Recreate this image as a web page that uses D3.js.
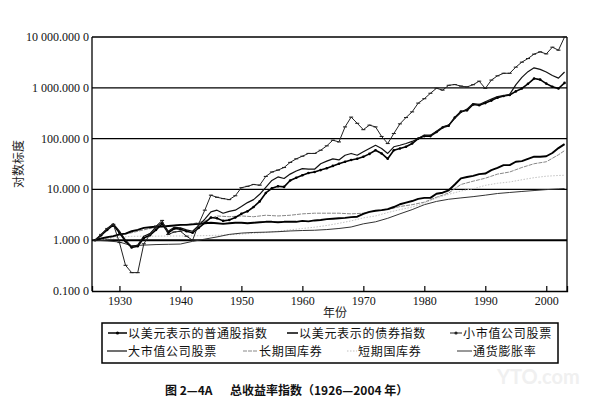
<!DOCTYPE html>
<html>
<head>
<meta charset="utf-8">
<script src="https://cdn.jsdelivr.net/npm/d3@7"></script>
<style>
  body { margin: 0; background: #fff; }
  svg { display: block; }
</style>
</head>
<body>
<div id="chart"></div>
<script>
// yearly points for the stock lines and the bond index
const years = d3.range(1926, 2004);
// the three faint lines are read every second year
const coarseYears = [...d3.range(1926, 2003, 2), 2003];

const smallCap = [
  1.0, 1.3, 1.7, 2.05, 0.9, 0.32, 0.23, 0.23, 0.85, 1.3,
  1.9, 2.45, 1.3, 1.45, 1.5, 1.2, 1.0, 2.1, 3.9, 7.7,
  7.0, 6.6, 6.3, 7.5, 10.8, 11.5, 12.5, 12.1, 18, 22,
  24, 27, 34, 40, 45, 51, 51, 59, 72, 93,
  86, 170, 265, 200, 150, 184, 170, 110, 80, 126,
  195, 260, 336, 500, 610, 780, 980, 900, 1120, 1160,
  1080, 1040, 1150, 1350, 970, 1420, 1720, 1930, 1930, 2550,
  3200, 3770, 4600, 5100, 4650, 6300, 5500, 10000
];
const largeCap = [
  1.0, 1.3, 1.7, 2.1, 1.5, 1.0, 0.75, 0.8, 1.2, 1.35,
  1.8, 2.3, 1.5, 1.8, 1.75, 1.6, 1.5, 1.95, 2.6, 3.6,
  3.9, 3.4, 3.7, 3.9, 4.6, 5.5, 6.3, 8.0, 11, 15,
  17.6, 16.4, 20, 23, 25.7, 25, 25, 32, 36, 40,
  38, 47, 51, 47, 55, 64, 74, 64, 51, 69,
  74, 80, 88, 100, 117, 117, 140, 170, 184, 250,
  330, 380, 490, 470, 530, 600, 670, 700, 740, 1140,
  1600, 2080, 2470, 2300, 2050, 1750, 1550, 2050
];
const stockIndexUSD = [
  1.0, 1.25, 1.6, 2.0, 1.4, 0.95, 0.72, 0.76, 1.1, 1.25,
  1.6, 2.1, 1.4, 1.7, 1.65, 1.5, 1.4, 1.75, 2.2, 2.8,
  2.7, 2.4, 2.5, 2.8, 3.3, 3.7, 4.5, 5.8, 8.5, 10.5,
  11.5, 11.2, 15, 17, 19, 21, 22, 24, 26, 29,
  32, 35, 38, 40, 44, 50, 59, 51, 40, 59,
  64, 69, 80, 100, 112, 112, 135, 165, 180, 260,
  340, 360, 470, 455, 500, 560, 640, 690, 720, 850,
  970, 1200, 1520, 1450, 1210, 1050, 970, 1250
];
const bondIndexUSD = [
  1.0, 1.08, 1.15, 1.2, 1.3, 1.35, 1.5, 1.6, 1.75, 1.8,
  1.85, 1.85, 1.9, 1.95, 2.0, 2.0, 2.05, 2.1, 2.15, 2.2,
  2.15, 2.1, 2.15, 2.2, 2.2, 2.15, 2.2, 2.25, 2.3, 2.3,
  2.25, 2.3, 2.3, 2.3, 2.4, 2.35, 2.45, 2.5, 2.6, 2.65,
  2.7, 2.75, 2.85, 2.9, 3.3, 3.6, 3.8, 3.9, 4.1, 4.5,
  5.1, 5.5, 5.9, 6.5, 6.8, 6.8, 8.2, 8.6, 9.6, 12.5,
  16.5, 17.5, 18.5, 20, 20.5, 24, 26.5, 30, 30, 35,
  36, 40, 44, 44, 45, 52, 65, 78
];
const longTreasury = [
  1.0, 1.1, 1.25, 1.4, 1.6, 1.8, 1.9, 2.0, 2.1, 2.4,
  3.0, 2.9, 3.0, 2.9, 3.1, 3.0, 3.1, 3.3, 3.4, 3.4,
  3.4, 3.3, 3.4, 3.8, 4.0, 4.6, 5.0, 5.6, 7.0, 8.5,
  12.5, 14.5, 16.6, 20, 22, 27, 32, 35, 48, 58
];
const shortTreasury = [
  1.0, 1.07, 1.14, 1.19, 1.2, 1.2, 1.21, 1.21, 1.22, 1.23,
  1.25, 1.28, 1.32, 1.37, 1.42, 1.5, 1.6, 1.7, 1.8, 1.95,
  2.15, 2.4, 2.75, 3.0, 3.5, 4.0, 4.5, 5.3, 6.8, 8.0,
  9.3, 10.3, 12, 13.2, 14, 15.5, 17, 18.2, 18.8, 19
];
const inflation = [
  1.0, 0.97, 0.92, 0.78, 0.8, 0.82, 0.83, 0.84, 0.95, 1.05,
  1.16, 1.3, 1.38, 1.42, 1.44, 1.47, 1.52, 1.55, 1.57, 1.62,
  1.7, 1.82, 2.1, 2.3, 2.7, 3.3, 4.0, 5.0, 5.8, 6.4,
  6.8, 7.2, 7.7, 8.3, 8.7, 9.1, 9.5, 9.9, 10.2, 10.4
];

const xTicks = [1930, 1940, 1950, 1960, 1970, 1980, 1990, 2000];
const yTicks = [0.1, 1, 10, 100, 1000, 10000];
const yTickLabels = ['0.100 0', '1.000 0', '10.000 0', '100.000 0', '1 000.000 0', '10 000.000 0'];

const serif = '"Liberation Serif", "Times New Roman", serif';
const cjk = '"Noto Sans CJK SC", sans-serif';

// series styles, drawn back to front
const series = [
  { key: 'tbill', label: '短期国库券', xs: coarseYears, values: shortTreasury, color: '#c2c2c2', width: 1, dash: '1.5,1.5' },
  { key: 'infl', label: '通货膨胀率', xs: coarseYears, values: inflation, color: '#333', width: 1 },
  { key: 'ltb', label: '长期国库券', xs: coarseYears, values: longTreasury, color: '#888', width: 1, dash: '4,1' },
  { key: 'bond', label: '以美元表示的债券指数', xs: years, values: bondIndexUSD, color: '#000', width: 1.9 },
  { key: 'stock', label: '以美元表示的普通股指数', xs: years, values: stockIndexUSD, color: '#000', width: 1.6, dots: true },
  { key: 'large', label: '大市值公司股票', xs: years, values: largeCap, color: '#111', width: 1.2 },
  { key: 'small', label: '小市值公司股票', xs: years, values: smallCap, color: '#222', width: 1, ticks: true },
];
const byKey = new Map(series.map((s) => [s.key, s]));

const width = 589, height = 403;
const svg = d3.select('#chart').append('svg').attr('width', width).attr('height', height);

const x = d3.scaleLinear().domain([1925.5, 2003.4]).range([92, 567]);
const y = d3.scaleLog().domain([0.1, 10000]).range([291, 37]);

// horizontal rules at each decade
svg.append('g').selectAll('line').data(yTicks.filter((t) => t > 0.1)).join('line')
  .attr('x1', x.range()[0]).attr('x2', x.range()[1])
  .attr('y1', (d) => y(d)).attr('y2', (d) => y(d))
  .attr('stroke', '#000').attr('stroke-width', (d) => (d === 1 ? 2 : 1.3));

// frame sides
svg.append('line').attr('x1', 92).attr('x2', 92).attr('y1', y(10000)).attr('y2', y(0.1))
  .attr('stroke', '#000').attr('stroke-width', 1.3);
svg.append('line').attr('x1', 567).attr('x2', 567).attr('y1', y(10000)).attr('y2', y(0.1))
  .attr('stroke', '#000').attr('stroke-width', 1.3);

// y tick labels
svg.append('g').selectAll('text').data(yTicks).join('text')
  .attr('x', 89).attr('y', (d) => y(d) + 4)
  .attr('text-anchor', 'end')
  .attr('font-family', serif).attr('font-size', 12).attr('fill', '#111')
  .text((d, i) => yTickLabels[i]);

// x axis, ticks point up into the plot
const xAxis = svg.append('g').attr('transform', `translate(0,${y(0.1)})`)
  .call(d3.axisBottom(x).tickValues(xTicks).tickFormat(d3.format('d')).tickSize(-5).tickPadding(5));
xAxis.select('.domain').attr('stroke-width', 1.3);
xAxis.selectAll('.tick line').attr('stroke-width', 1.2);
xAxis.selectAll('text').attr('font-family', serif).attr('font-size', 12).attr('fill', '#111');

const line = d3.line().x((d) => x(d[0])).y((d) => y(d[1]));
const plot = svg.append('g');

series.forEach((s) => {
  const pts = s.xs.map((yr, i) => [yr, s.values[i]]);
  plot.append('path').datum(pts)
    .attr('d', line)
    .attr('fill', 'none')
    .attr('stroke', s.color)
    .attr('stroke-width', s.width)
    .attr('stroke-linejoin', 'round')
    .attr('stroke-dasharray', s.dash || null);
  if (s.ticks) {
    plot.append('g').selectAll('line').data(pts).join('line')
      .attr('x1', (d) => x(d[0]) - 2).attr('x2', (d) => x(d[0]) + 2)
      .attr('y1', (d) => y(d[1])).attr('y2', (d) => y(d[1]))
      .attr('stroke', s.color).attr('stroke-width', 1.1);
  }
  if (s.dots) {
    plot.append('g').selectAll('circle').data(pts).join('circle')
      .attr('cx', (d) => x(d[0])).attr('cy', (d) => y(d[1])).attr('r', 1.3)
      .attr('fill', s.color);
  }
});

// axis titles
svg.append('text')
  .attr('transform', 'translate(23,164) rotate(-90)')
  .attr('text-anchor', 'middle')
  .attr('font-family', cjk).attr('font-size', 12).attr('fill', '#222')
  .text('对数标度');
svg.append('text')
  .attr('x', 335).attr('y', 317).attr('text-anchor', 'middle')
  .attr('font-family', cjk).attr('font-size', 12).attr('fill', '#222')
  .text('年份');

// legend
svg.append('rect').attr('x', 102).attr('y', 323).attr('width', 456).attr('height', 40)
  .attr('fill', 'none').attr('stroke', '#000').attr('stroke-width', 1.5);

const legendLayout = [
  { key: 'stock', x0: 108, x1: 127, row: 0 },
  { key: 'bond', x0: 287, x1: 298, row: 0 },
  { key: 'small', x0: 450, x1: 462, row: 0 },
  { key: 'large', x0: 107, x1: 127, row: 1 },
  { key: 'ltb', x0: 243, x1: 258, row: 1 },
  { key: 'tbill', x0: 347, x1: 357, row: 1 },
  { key: 'infl', x0: 457, x1: 472, row: 1 },
];
const legend = svg.append('g');
legendLayout.forEach((item) => {
  const s = byKey.get(item.key);
  const ly = item.row === 0 ? 333 : 351;
  legend.append('line')
    .attr('x1', item.x0).attr('x2', item.x1).attr('y1', ly).attr('y2', ly)
    .attr('stroke', s.color).attr('stroke-width', Math.min(s.width, 1.5))
    .attr('stroke-dasharray', s.dash || null);
  if (s.dots || s.ticks) {
    legend.append('circle').attr('cx', (item.x0 + item.x1) / 2).attr('cy', ly).attr('r', 1.6).attr('fill', s.color);
  }
  legend.append('text')
    .attr('x', item.x1 + 1).attr('y', ly + 4.5)
    .attr('font-family', cjk).attr('font-size', 12).attr('letter-spacing', 0.7).attr('fill', '#111')
    .text(s.label);
});

// caption
svg.append('text').attr('x', 165).attr('y', 395)
  .attr('font-family', cjk).attr('font-size', 12).attr('font-weight', 'bold').attr('fill', '#111')
  .text('图 2—4A');
svg.append('text').attr('x', 230).attr('y', 395)
  .attr('font-family', cjk).attr('font-size', 12).attr('font-weight', 'bold').attr('fill', '#111')
  .text('总收益率指数（1926—2004 年）');

// faint scan watermark
svg.append('text').attr('x', 497).attr('y', 384)
  .attr('font-family', 'Lato, sans-serif').attr('font-size', 20).attr('font-weight', 'bold')
  .attr('fill', '#f0f0f0')
  .text('YTO.com');
</script>
</body>
</html>
